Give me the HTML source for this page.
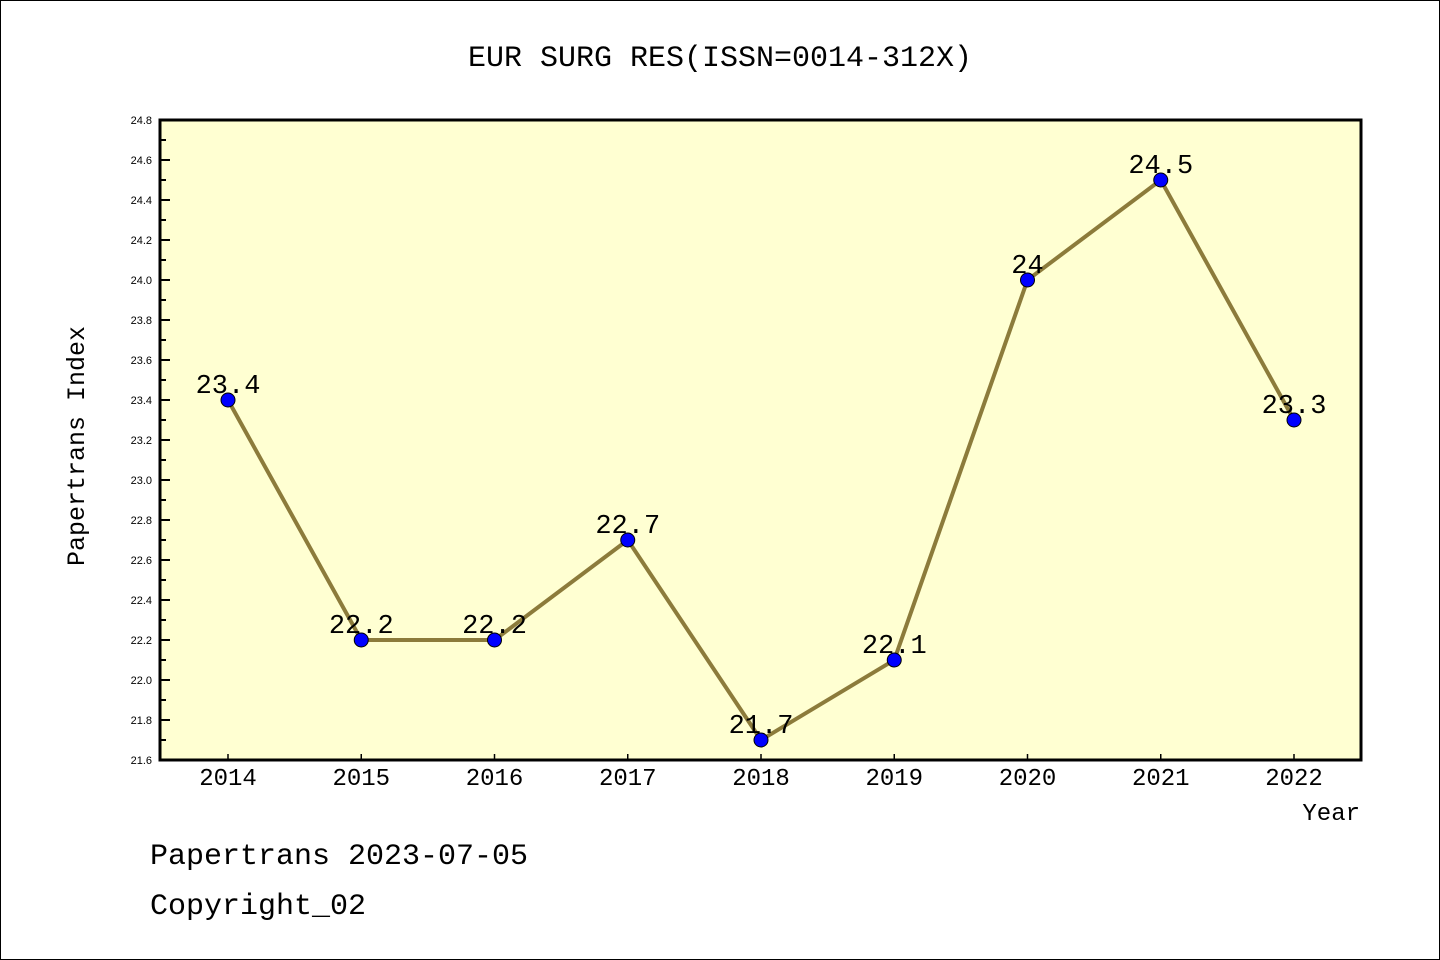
<!DOCTYPE html>
<html><head><meta charset="utf-8"><style>
body{margin:0;background:#fff;}
svg{display:block;font-family:"Liberation Sans","WenQuanYi Zen Hei",sans-serif;}
.mono{font-family:"Liberation Mono","WenQuanYi Zen Hei",monospace;}
</style></head><body>
<svg id="chart" width="1440" height="960" viewBox="0 0 1440 960" xmlns="http://www.w3.org/2000/svg">
<rect x="0.5" y="0.5" width="1439" height="959" fill="#fff" stroke="#000"/>
<text class="mono" x="720" y="66" font-size="30" text-anchor="middle">EUR SURG RES(ISSN=0014-312X)</text>
<rect x="160" y="120" width="1201" height="640" fill="#ffffd2"/>
<g id="yaxis"></g>
<g id="xaxis"></g>
<g id="series"></g>
<rect x="160" y="120" width="1201" height="640" fill="none" stroke="#000" stroke-width="3"/>
<text class="mono" transform="translate(84,446) rotate(-90)" font-size="25" text-anchor="middle">Papertrans Index</text>
<text class="mono" x="1360" y="820" font-size="24" text-anchor="end">Year</text>
<text class="mono" x="150" y="864" font-size="30">Papertrans 2023-07-05</text>
<text class="mono" x="150" y="914" font-size="30">Copyright_02</text>
</svg>
<script>
const years = [2014,2015,2016,2017,2018,2019,2020,2021,2022];
const values = [23.4,22.2,22.2,22.7,21.7,22.1,24.0,24.5,23.3];
const valueLabels = ["23.4","22.2","22.2","22.7","21.7","22.1","24","24.5","23.3"];
const yTicks = [21.6,21.8,22.0,22.2,22.4,22.6,22.8,23.0,23.2,23.4,23.6,23.8,24.0,24.2,24.4,24.6,24.8];
const NS="http://www.w3.org/2000/svg";
const yMin=21.6,yMax=24.8,plotTop=120,plotBot=760;
function ys(v){return plotBot-(v-yMin)/(yMax-yMin)*(plotBot-plotTop);}
function xs(yr){return 228+(yr-2014)*133.25;}
function mk(tag,attrs,parent){const e=document.createElementNS(NS,tag);for(const k in attrs)e.setAttribute(k,attrs[k]);parent.appendChild(e);return e;}
const ya=document.getElementById('yaxis'),xa=document.getElementById('xaxis'),se=document.getElementById('series');
yTicks.forEach((t,i)=>{
  const y=ys(t);
  const l=mk('line',{x1:160,x2:170,y1:y,y2:y,stroke:'#000','stroke-width':2},ya);
  
  
  const tx=mk('text',{x:152,y:y+4,'font-size':11,'text-anchor':'end'},ya);
  tx.textContent=t.toFixed(1);
  
  
  if(i<yTicks.length-1){
    const ym=ys(t+0.1);
    const m=mk('line',{x1:160,x2:166,y1:ym,y2:ym,stroke:'#000','stroke-width':2},ya);
    
    
  }
});
years.forEach(yr=>{
  const x=xs(yr);
  const l=mk('line',{x1:x,x2:x,y1:plotBot,y2:plotBot-6,stroke:'#000','stroke-width':1.5},xa);
  
  
  const tx=mk('text',{x:x,y:plotBot+25,'font-size':24,'text-anchor':'middle','class':'mono'},xa);
  tx.textContent=yr;
  
  
});
const pts=years.map((yr,i)=>xs(yr)+','+ys(values[i])).join(' ');
const pl=mk('polyline',{points:pts,fill:'none',stroke:'#8c7b3b','stroke-width':4},se);


years.forEach((yr,i)=>{
  const c=mk('circle',{cx:xs(yr),cy:ys(values[i]),r:7,fill:'#0000ff',stroke:'#000','stroke-width':1},se);
  
  
  const t=mk('text',{x:xs(yr),y:ys(values[i])-7,'font-size':27,'text-anchor':'middle','class':'mono'},se);
  t.textContent=valueLabels[i];
  
  
});
</script>
</body></html>
